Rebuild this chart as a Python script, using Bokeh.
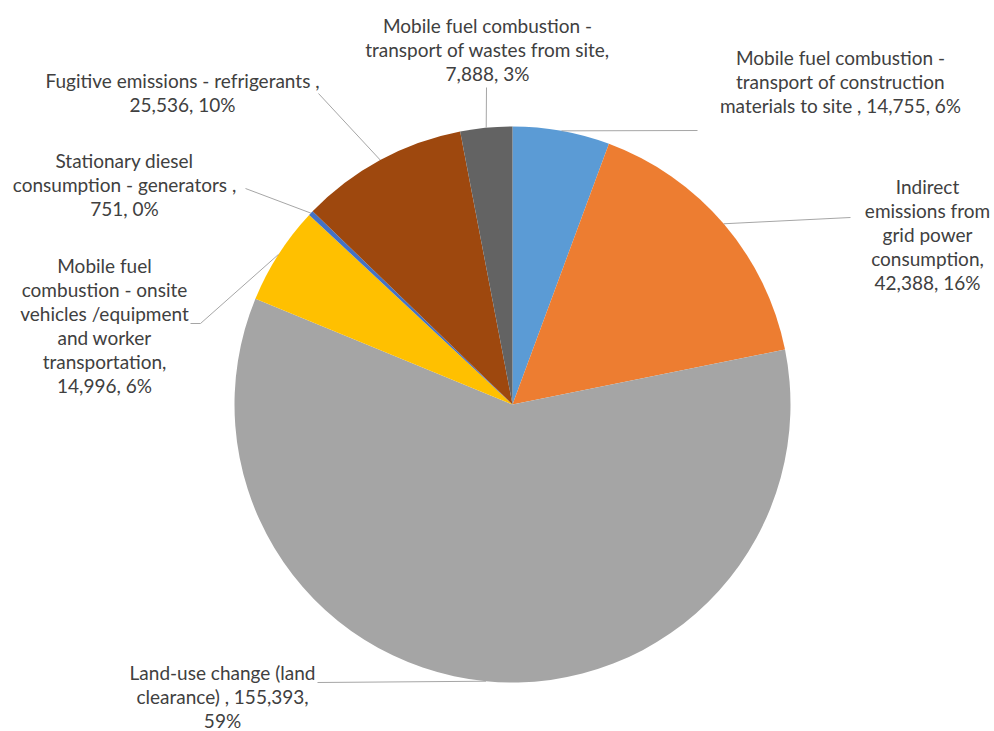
import math
from bokeh.plotting import figure
from bokeh.models import Range1d, ColumnDataSource
from bokeh.core.properties import value
from bokeh.embed import file_html
from bokeh.resources import INLINE

# ---- data ----
categories = [
    "Mobile fuel combustion - transport of construction materials to site",
    "Indirect emissions from grid power consumption",
    "Land-use change (land clearance)",
    "Mobile fuel combustion - onsite vehicles /equipment and worker transportation",
    "Stationary diesel consumption - generators",
    "Fugitive emissions - refrigerants",
    "Mobile fuel combustion - transport of wastes from site",
]
values = [14755, 42388, 155393, 14996, 751, 25536, 7888]
label_texts = [
    "Mobile fuel combustion -\ntransport of construction\nmaterials to site , 14,755, 6%",
    "Indirect\nemissions from\ngrid power\nconsumption,\n42,388, 16%",
    "Land-use change (land\nclearance) , 155,393,\n59%",
    "Mobile fuel\ncombustion - onsite\nvehicles /equipment\nand worker\ntransportation,\n14,996, 6%",
    "Stationary diesel\nconsumption - generators ,\n751, 0%",
    "Fugitive emissions - refrigerants ,\n25,536, 10%",
    "Mobile fuel combustion -\ntransport of wastes from site,\n7,888, 3%",
]

# ---- styles / layout (pixel coordinates, y down) ----
colors = ["#5B9BD5", "#ED7D31", "#A5A5A5", "#FFC000", "#4472C4", "#9E480E", "#636363"]
W, H = 994, 731
CX, CY, R = 512, 404, 278
label_pos = [(840, 81), (927, 234), (222, 696), (104, 325), (124, 184), (182, 92), (487, 49)]
leader_ends = [[(697, 130)], [(850, 217)], [(317, 682)], [(200, 323), (190, 323)],
               [(245, 188)], [(318, 93)], [(486, 87)]]

def Y(py):
    return H - py

total = sum(values)
starts, ends, mids = [], [], []
cum = 0.0
for v in values:
    a0 = math.pi / 2 - 2 * math.pi * cum / total
    cum += v
    a1 = math.pi / 2 - 2 * math.pi * cum / total
    starts.append(a0)
    ends.append(a1)
    mids.append((a0 + a1) / 2)

p = figure(width=W, height=H, x_range=Range1d(0, W), y_range=Range1d(0, H),
           output_backend="svg", toolbar_location=None, min_border=0)
p.axis.visible = False
p.grid.visible = False
p.outline_line_color = None
p.background_fill_color = "white"

src = ColumnDataSource(dict(start=starts, end=ends, color=colors, cat=categories, val=values))
p.wedge(x=CX, y=Y(CY), radius=R, start_angle="start", end_angle="end",
        direction="clock", fill_color="color", line_color=None, source=src)

# leader lines
xs, ys = [], []
for m, pts in zip(mids, leader_ends):
    sx = CX + R * math.cos(m)
    sy = Y(CY) + R * math.sin(m)
    xs.append([sx] + [q[0] for q in pts])
    ys.append([sy] + [Y(q[1]) for q in pts])
p.multi_line(xs=xs, ys=ys, line_color="#A6A6A6", line_width=1)

# labels
p.text(x=[q[0] for q in label_pos], y=[Y(q[1]) for q in label_pos], text=label_texts,
       text_align="center", text_baseline="middle", text_font=value("Lato"),
       text_font_size="19px", text_color="#404040", text_line_height=1.05)

open("out.html", "w").write(file_html(p, INLINE))
